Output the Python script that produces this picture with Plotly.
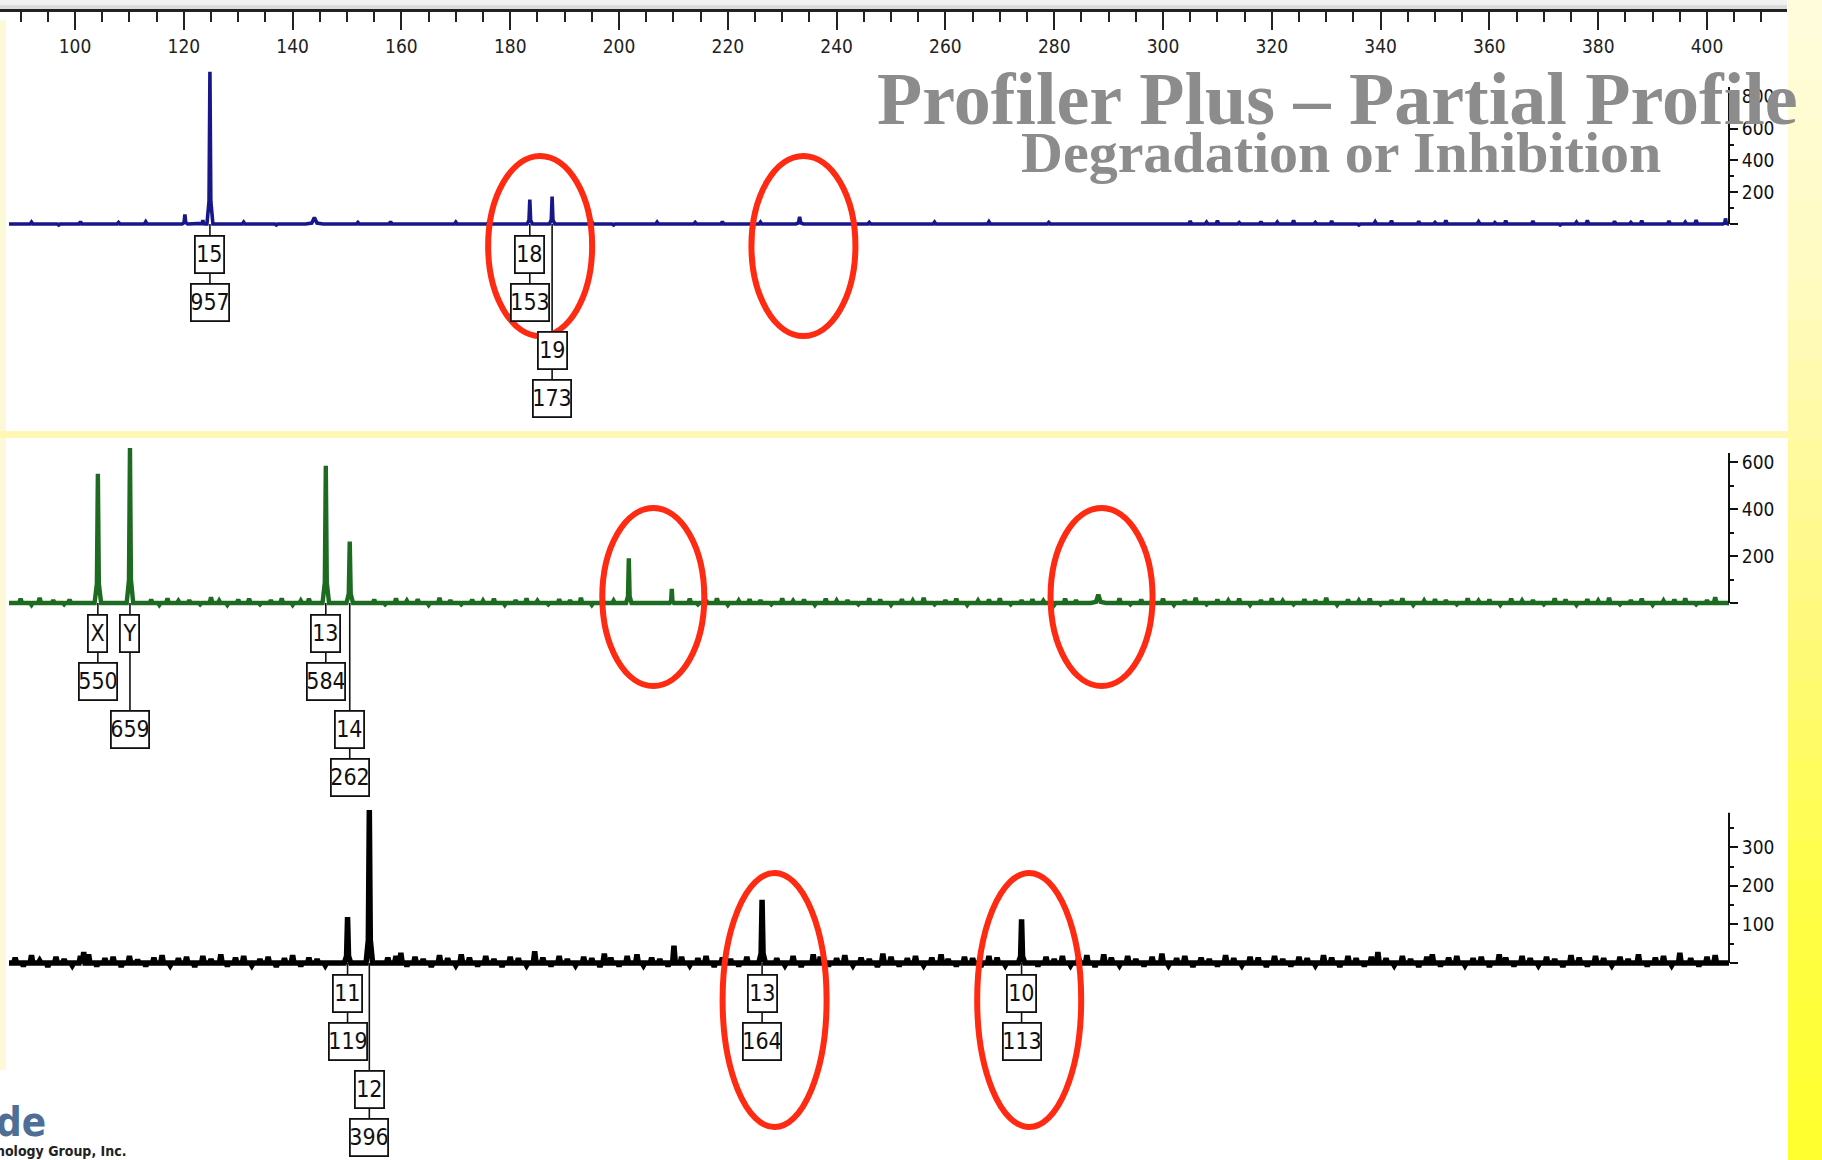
import plotly.graph_objects as go

W, H = 1822, 1160

# ---------------- data ----------------
size_ticks = [100, 120, 140, 160, 180, 200, 220, 240, 260, 280, 300, 320, 340, 360, 380, 400]

# blue dye panel
blue_peak_bp = [120.2, 123.5, 124.8, 144.0, 183.6, 187.7, 233.2, 403.4]
blue_peak_rfu = [60, 25, 957, 40, 153, 173, 45, 35]
blue_peak_hw = [0.5, 0.35, 0.55, 1.6, 0.5, 0.5, 0.7, 0.5]
blue_noise_bp = [92, 97, 101, 108, 113, 131, 137, 152, 158, 163, 170, 176, 195, 199, 207, 214, 219,
                 226, 246, 252, 258, 268, 279, 305, 308, 310, 314, 318, 321, 324, 328, 331, 336, 339,
                 342, 347, 350, 352, 358, 361, 363, 368, 373, 376, 378, 383, 386, 388, 393, 396, 398]
blue_noise_rfu = [12, -6, 15, 10, 14, 12, -6, 10, 15, -5, 12, 10, 14, -6, 12, 10, 15,
                  12, 10, -5, 12, 14, 10, 18, 12, 20, 9, 15, 12, 22, 10, 18, -6, 14,
                  20, 16, 10, 22, 14, 9, 20, 18, -6, 12, 22, 16, 10, 20, 18, 12, 24]

# green dye panel
green_peak_bp = [104.2, 110.1, 146.1, 150.5, 201.8, 209.7, 288.1]
green_peak_rfu = [550, 659, 584, 262, 190, 60, 35]
green_peak_hw = [0.6, 0.6, 0.6, 0.6, 0.5, 0.4, 1.4]
green_noise_bp = [90, 92, 93.5, 96, 98, 99, 114, 115.5, 117, 119, 121, 123, 125, 126.5, 128, 130, 132,
                  134, 136, 138, 140, 141.5, 143, 155, 157, 159, 161, 163, 165, 167, 169, 171, 173,
                  175, 177, 179, 181, 183, 185, 187, 189, 191, 193, 195, 197, 199, 213, 214.5, 216,
                  218, 220, 222, 224, 226, 228, 230, 232, 234, 236, 238, 240, 242, 244, 246, 248,
                  250, 252, 254, 256, 258, 260, 262, 264, 266, 268, 270, 272, 274, 276, 278, 280,
                  282, 284, 292, 294, 296, 298, 300, 302, 304, 306, 308, 310, 312, 314, 316, 318,
                  320, 322, 324, 326, 328, 330, 332, 334, 336, 338, 340, 342, 344, 346, 348, 350,
                  352, 354, 356, 358, 360, 362, 364, 366, 368, 370, 372, 374, 376, 378, 380, 382,
                  384, 386, 388, 390, 392, 394, 396, 398, 400, 401.5]
green_noise_rfu = [18, -8, 22, 12, -6, 15, 15, -8, 20, 9, 12, -6, 25, 10, -8, 14, 18,
                   -6, 12, 20, -8, 10, 18, 14, -6, 20, 10, 16, -8, 22, 12, -6, 15,
                   10, 18, -8, 12, 20, 9, -6, 16, 12, 22, -8, 14, 10, 18, -6, 12,
                   20, -8, 10, 16, 12, -6, 20, 9, 14, -8, 18, 10, 12, -6, 20, 14,
                   -8, 16, 10, 22, -6, 12, 18, -8, 10, 15, 20, -6, 12, 16, 9, -8,
                   18, 12, 20, -6, 14, 10, 18, -8, 12, 22, -6, 15, 10, 18, -8, 12,
                   20, 9, -6, 16, 12, 22, -8, 14, 10, 18, -6, 12, 20, -8, 10, 16,
                   12, -6, 20, 9, 14, -8, 18, 10, 12, -6, 20, 14, -8, 16, 10, 22,
                   -6, 12, 18, -8, 10, 15, 20, -6, 12, 25]

# black (yellow dye) panel
black_peak_bp = [150.1, 154.1, 226.3, 274.0]
black_peak_rfu = [119, 396, 164, 113]
black_peak_hw = [0.6, 0.6, 0.6, 0.6]
black_noise_bp = [89, 90.5, 92, 93.5, 95, 96.5, 98, 99.5, 101, 101.6, 102.5, 104, 105.5, 107, 108.5,
                  110, 111.5, 113, 114.5, 116, 117.5, 119, 120.5, 122, 123.5, 125, 126.8, 128, 129.5,
                  131, 132.5, 134, 135.5, 137, 138.5, 140, 141.5, 143, 144.5, 146, 157.5, 159, 159.9,
                  161, 162.5, 164, 165.5, 167, 168.5, 170, 171, 172.5, 174, 175.5, 177, 178.5, 180,
                  181.5, 183, 184.5, 186, 187.5, 189, 190.5, 192, 193.5, 195, 196.5, 197.3, 198.5,
                  200, 201.5, 203.3, 204.5, 206, 207.5, 209, 210.1, 211.5, 213, 214.5, 216, 217.5,
                  219, 220.5, 222, 223.5, 229, 230.5, 232, 233.5, 235.7, 237, 238.5, 240, 241.5,
                  243, 244.5, 246, 247.5, 248.5, 250, 251.5, 253, 254.5, 256, 257.5, 259.2, 260.5,
                  262, 263.5, 265, 266.5, 268, 269.5, 271, 277, 278.5, 280, 281.5, 283, 284.5, 286,
                  287.5, 289.1, 290.5, 292, 293.5, 295, 296.5, 298, 299.8, 301, 302.5, 304, 305.5,
                  307, 308.5, 310, 311.5, 313, 314.5, 316, 317.5, 319, 320.5, 322, 323.5, 325,
                  326.5, 328, 329.5, 331, 332.5, 334, 335.5, 337, 338.3, 339.5, 341, 342.5, 344,
                  345.5, 347, 348.5, 349.5, 351, 352.5, 354, 355.5, 357, 358.5, 360, 361.8, 363,
                  364.5, 366, 367.5, 369, 370.5, 372, 373.5, 375, 376.5, 378, 379.5, 381, 382.5,
                  384, 385.5, 387.4, 389, 390.5, 392, 393.5, 395, 397, 398.5, 400, 401.5, 402.3]
black_noise_rfu = [14, -8, 20, 6, -10, 16, 10, -6, 18, 28, 22, -8, 12, 16, -10,
                   18, 8, -8, 14, 20, -6, 12, 16, -10, 18, 10, 22, -8, 14,
                   18, -6, 10, 16, -10, 12, 20, -8, 14, 10, -6, 14, 18, 26,
                   -8, 16, 10, -10, 20, 12, -6, 22, 14, -8, 18, 10, -10, 16,
                   12, -6, 30, 14, -8, 18, 10, -6, 16, 12, -10, 24, 14,
                   -8, 18, 22, -6, 14, 10, -8, 45, 16, -6, 12, 18, -10,
                   14, 10, -8, 16, 12, -6, 18, -10, 22, 16, -8, 12, 20,
                   -6, 14, 10, -10, 24, 16, -8, 12, 18, -6, 14, 22, 10,
                   -8, 16, 12, -10, 18, 14, -6, -8, 16, 10, 18, -6, 12, 20,
                   -10, 22, 14, -6, 18, 10, -8, 16, 24, -6, 12, 18, -10,
                   14, 10, -8, 20, 12, -6, 16, 14, -10, 18, 10, -8, 16,
                   12, -6, 20, 14, -10, 18, 12, -8, 16, 28, 12, -6, 18,
                   10, -10, 16, 22, -8, 14, 18, -6, 12, 16, -10, 22, 14,
                   -8, 18, 12, -6, 16, 10, -10, 20, 14, -8, 18, 12, -6,
                   16, 10, 22, -8, 14, 18, -6, 26, 12, -8, 16, 20]

# allele call boxes: (allele, height, size in bp, slot of allele box, slot of height box)
blue_calls = [("15", "957", 124.8, 0, 1), ("18", "153", 183.6, 0, 1), ("19", "173", 187.7, 2, 3)]
green_calls = [("X", "550", 104.2, 0, 1), ("Y", "659", 110.1, 0, 2),
               ("13", "584", 146.1, 0, 1), ("14", "262", 150.5, 2, 3)]
black_calls = [("11", "119", 150.1, 0, 1), ("12", "396", 154.1, 2, 3),
               ("13", "164", 226.3, 0, 1), ("10", "113", 274.0, 0, 1)]

# highlighted regions (centre in bp)
blue_circles_bp = [185.5, 233.9]
green_circles_bp = [206.3, 288.7]
black_circles_bp = [228.6, 275.4]

blue_ticks = [0, 200, 400, 600, 800]
blue_minor = [100, 300, 500, 700]
green_ticks = [0, 200, 400, 600]
green_minor = [100, 300, 500]
black_ticks = [0, 100, 200, 300]
black_minor = [50, 150, 250, 350]

title_1 = "Profiler Plus – Partial Profile"
title_2 = "Degradation or Inhibition"

# ---------------- layout constants ----------------
PX_PER_BP = 5.44
BP_AT_LEFT = 86.21
RULER_RIGHT_PX = 1787
PANEL_LEFT_PX = 9
YAXIS_PX = 1729

NARROW = "DejaVu Sans Condensed, Liberation Sans Narrow, Arial Narrow, sans-serif"


def nfont(size, color="#111", bold=False):
    d = dict(family=NARROW, size=size, color=color)
    try:
        go.layout.annotation.Font(stretch="condensed")
        d["stretch"] = "condensed"
    except Exception:
        pass
    return d


def bp_of(px):
    return BP_AT_LEFT + px / PX_PER_BP


x_start, x_end = bp_of(PANEL_LEFT_PX), bp_of(YAXIS_PX)

panels = [
    dict(name="y", color="#17178a", width=3.6, base=224, scale=0.159, top=55, bottom=428, axis_top=862,
         peaks=(blue_peak_bp, blue_peak_rfu, blue_peak_hw), noise=(blue_noise_bp, blue_noise_rfu),
         calls=blue_calls, circles=blue_circles_bp, circ=(52, 90, 22), ticks=blue_ticks, minor=blue_minor),
    dict(name="y2", color="#1d6b21", width=4.4, base=603, scale=0.235, top=440, bottom=800, axis_top=638,
         peaks=(green_peak_bp, green_peak_rfu, green_peak_hw), noise=(green_noise_bp, green_noise_rfu),
         calls=green_calls, circles=green_circles_bp, circ=(51, 89, -6), ticks=green_ticks, minor=green_minor),
    dict(name="y3", color="#000000", width=5.5, base=963, scale=0.386, top=790, bottom=1160, axis_top=389,
         peaks=(black_peak_bp, black_peak_rfu, black_peak_hw), noise=(black_noise_bp, black_noise_rfu),
         calls=black_calls, circles=black_circles_bp, circ=(52, 127, 37), ticks=black_ticks, minor=black_minor),
]


def build_trace(peaks, noise):
    feats = []
    for p, h, w in zip(*peaks):
        feats.append((p, h, w, True))
    for p, h in zip(*noise):
        if all(abs(p - q) > 1.4 for q in peaks[0]):
            feats.append((p, h, 0.25, False))
    feats.sort(key=lambda f: f[0])
    xs, ys = [x_start], [0]
    for p, h, w, big in feats:
        if big:
            xs += [p - w, p - 0.3 * w, p, p + 0.3 * w, p + w]
            ys += [0, 0.15 * h, h, 0.15 * h, 0]
        else:
            xs += [p - w, p, p + w]
            ys += [0, h, 0]
    xs.append(x_end)
    ys.append(0)
    return xs, ys


fig = go.Figure()
shapes = []
annotations = []
layout_axes = {}

for i, pnl in enumerate(panels):
    yname = pnl["name"]
    ykey = "yaxis" if yname == "y" else "yaxis" + yname[1:]
    xs, ys = build_trace(pnl["peaks"], pnl["noise"])
    fig.add_trace(go.Scatter(x=xs, y=ys, xaxis="x", yaxis=yname, mode="lines",
                             line=dict(color=pnl["color"], width=pnl["width"]),
                             hoverinfo="skip", showlegend=False))
    s = pnl["scale"]
    yr = [-(pnl["bottom"] - pnl["base"]) / s, (pnl["base"] - pnl["top"]) / s]
    layout_axes[ykey] = dict(
        domain=[1 - pnl["bottom"] / H, 1 - pnl["top"] / H], range=yr, anchor="free",
        position=YAXIS_PX / W, side="right", showgrid=False, zeroline=False, showline=False,
        tickmode="array", tickvals=pnl["ticks"], ticktext=[""] + [str(v) for v in pnl["ticks"][1:]],
        ticks="outside", ticklen=8, tickwidth=2, tickcolor="#111",
        tickfont=nfont(19),
        minor=dict(tickmode="array", tickvals=pnl["minor"], ticks="outside", ticklen=4,
                   tickwidth=2, tickcolor="#111"),
        fixedrange=True)
    # y axis line
    shapes.append(dict(type="line", xref="x", yref=yname, x0=x_end, x1=x_end, y0=0, y1=pnl["axis_top"],
                       line=dict(color="#111", width=2)))
    # allele call boxes
    for allele, height, pos, s1, s2 in pnl["calls"]:
        last = max(s1, s2)
        shapes.append(dict(type="line", xref="x", yref=yname, ysizemode="pixel", yanchor=0,
                           x0=pos, x1=pos, y0=0, y1=-(30 + 48 * last),
                           line=dict(color="#111", width=1.6)))
        for txt, slot in ((allele, s1), (height, s2)):
            annotations.append(dict(
                x=pos, y=0, xref="x", yref=yname, yshift=-(30 + 48 * slot), showarrow=False,
                text=txt, font=nfont(23),
                bgcolor="white", bordercolor="#111", borderwidth=1.8, borderpad=0,
                width=8 + 9.5 * len(txt), height=35, xanchor="center", yanchor="middle", align="center"))
    # red highlight ellipses
    rx, ry, off = pnl["circ"]
    for c in pnl["circles"]:
        shapes.append(dict(type="circle", xref="x", yref=yname, xsizemode="pixel", ysizemode="pixel",
                           xanchor=c, yanchor=0, x0=-rx, x1=rx, y0=-off - ry, y1=-off + ry,
                           line=dict(color="#ff2a12", width=6)))

# ---------------- background decoration ----------------
def paper_rect(x0, y0, x1, y1, color):
    return dict(type="rect", xref="paper", yref="paper", layer="below",
                x0=x0 / W, x1=x1 / W, y0=1 - y1 / H, y1=1 - y0 / H,
                fillcolor=color, line=dict(width=0))


bg = [paper_rect(0, 0, RULER_RIGHT_PX, 5, "#f1f1f1"), paper_rect(0, 5, RULER_RIGHT_PX, 9, "#dcdcdc"),
      paper_rect(0, 20, 6, 1070, "#fdf8d8"), paper_rect(0, 431, W, 438, "#fff8b4")]
stops = [(0, (255, 252, 222)), (300, (255, 251, 190)), (600, (255, 249, 130)), (900, (255, 254, 70)),
         (1160, (255, 255, 45))]
nb = 29
for k in range(nb):
    y0 = k * H / nb
    y1 = (k + 1) * H / nb
    ym = (y0 + y1) / 2
    for (a, ca), (b, cb) in zip(stops[:-1], stops[1:]):
        if a <= ym <= b:
            t = (ym - a) / (b - a)
            col = tuple(round(ca[j] + (cb[j] - ca[j]) * t) for j in range(3))
            break
    bg.append(paper_rect(RULER_RIGHT_PX + 1, y0, W, y1 + 1, "rgb(%d,%d,%d)" % col))
shapes = bg + shapes

# ---------------- titles & logo ----------------
annotations += [
    dict(x=1337 / W, y=1 - 99 / H, xref="paper", yref="paper", showarrow=False, text="<b>%s</b>" % title_1,
         font=dict(family="Liberation Serif, Times New Roman, serif", size=74, color="#8c8c8c"),
         xanchor="center", yanchor="middle"),
    dict(x=1341 / W, y=1 - 152 / H, xref="paper", yref="paper", showarrow=False, text="<b>%s</b>" % title_2,
         font=dict(family="Liberation Serif, Times New Roman, serif", size=58, color="#8c8c8c"),
         xanchor="center", yanchor="middle"),
    dict(x=-6 / W, y=1 - 1122 / H, xref="paper", yref="paper", showarrow=False, text="<b>de</b>",
         font=nfont(40, "#4f6e95"), xanchor="left", yanchor="middle"),
    dict(x=-6 / W, y=1 - 1151 / H, xref="paper", yref="paper", showarrow=False,
         text="<b>nology Group, Inc.</b>",
         font=nfont(14, "#222"), xanchor="left", yanchor="middle"),
]

fig.update_layout(
    width=W, height=H, margin=dict(l=0, r=0, t=0, b=0),
    paper_bgcolor="white", plot_bgcolor="rgba(0,0,0,0)", showlegend=False,
    xaxis=dict(domain=[0, RULER_RIGHT_PX / W], range=[BP_AT_LEFT, bp_of(RULER_RIGHT_PX)],
               anchor="free", position=1 - 10 / H, side="bottom", showgrid=False, zeroline=False,
               showline=True, linecolor="#222", linewidth=2.5,
               tickmode="array", tickvals=size_ticks, ticks="outside", ticklen=18, tickwidth=2,
               tickcolor="#222", tickfont=nfont(19, "#222"),
               minor=dict(tickmode="linear", tick0=0, dtick=5, ticks="outside", ticklen=10,
                          tickwidth=1.6, tickcolor="#222"),
               fixedrange=True),
    shapes=shapes, annotations=annotations,
    **layout_axes,
)

fig.write_html("out.html", config={"displayModeBar": False},
               post_script="document.body.style.margin='0';document.body.style.overflow='hidden';")
